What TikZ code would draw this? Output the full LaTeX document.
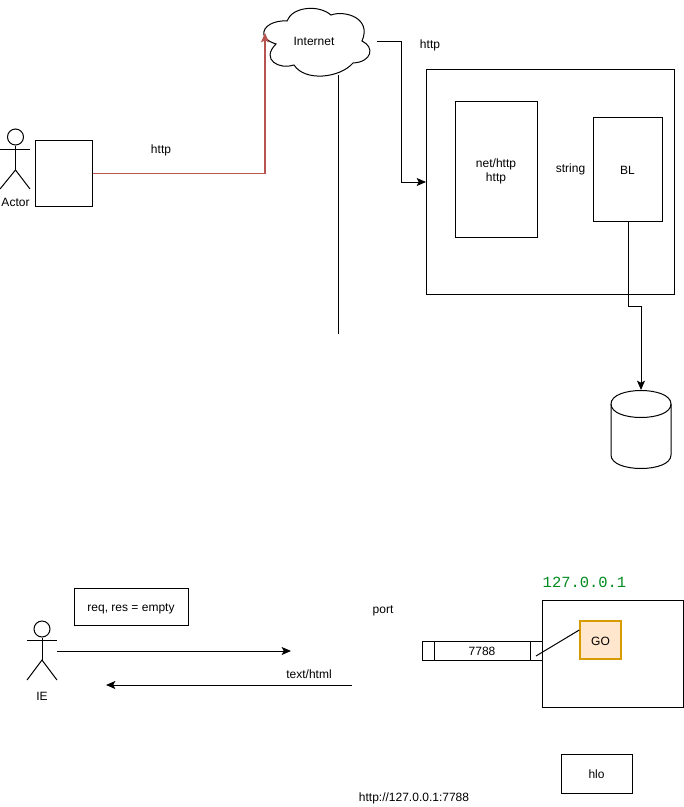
\documentclass[tikz,border=0pt]{standalone}
\usepackage{fontspec}
\setmainfont{Liberation Sans}
\newfontfamily\addrfont{Liberation Mono}
\usetikzlibrary{arrows.meta}
\definecolor{linkred}{HTML}{B85450}
\definecolor{gofill}{HTML}{FFE6CC}
\definecolor{goline}{HTML}{D79B00}
\definecolor{addrgreen}{HTML}{008A1E}
\tikzset{
	box/.style 2 args={draw, rectangle, inner sep=0pt, minimum width=#1*0.75pt, minimum height=#2*0.75pt, font=\fontsize{9}{10.5}\selectfont, align=center, text height=9.5pt, text depth=2pt},
	label/.style={inner sep=0pt, yshift=-0.75pt, font=\fontsize{9}{10.5}\selectfont, align=center},
	arrow/.style={-{Stealth[length=7pt, width=6pt, inset=1.5pt]}},
}
\begin{document}
\begin{tikzpicture}[x=0.75pt, y=-0.75pt, line width=0.75pt]
			\useasboundingbox (0, 0) rectangle (684, 807);

			\coordinate (actorhip) at (15.5, 170);
\coordinate (iehip) at (42, 660);
\coordinate (cloudout) at (377, 41);
\coordinate (cloudleft) at (265, 33);
\coordinate (cloudlow) at (338, 75);
\coordinate (lineend) at (338, 334);
\coordinate (serverin) at (426, 182);
\coordinate (dbtop) at (641, 390);
\coordinate (reqstart) at (57, 651);
\coordinate (reqend) at (291, 651);
\coordinate (resstart) at (352, 685);
\coordinate (resend) at (106, 685);
\coordinate (portpin) at (536, 656);

			% top half
			\node[draw, circle, inner sep=0pt, minimum size=12pt] (actorhead) at (15.5, 137) {};
			\draw (actorhead) -- (actorhip);
\draw (0, 149.5) -- (30, 149.5);
\draw (0, 189) -- (actorhip) -- (30, 189);
			\node[label] (actorname) at (15.5, 201) {Actor};

			\node[box={57}{66}] (client) at (63.5, 173) {};
			\node[label] (httpleft) at (161, 149.5) {http};

			\draw (264, 35) .. controls (262, 26) and (275, 20) .. (287, 21)
.. controls (292, 7) and (318, 4) .. (331, 15)
.. controls (345, 10) and (372, 18) .. (362, 41)
.. controls (375, 47) and (372, 62) .. (353, 63)
.. controls (340, 78) and (305, 82) .. (294, 65)
.. controls (280, 70) and (260, 60) .. (276, 44)
.. controls (270, 42) and (266, 40) .. (264, 35);
			\node[label] (cloud) at (314, 40) {Internet};

			\draw[linkred, arrow, line width=1.1pt] (client.east |- 0, 173.5) -| (cloudleft);
			\draw[arrow] (cloudout) -- (401, 41) |- (serverin);
			\draw (cloudlow) -- (lineend);
			\node[label] (httpright) at (430, 44) {http};

			\node[box={248}{225}] (server) at (550, 181.5) {};
			\node[box={82}{136}, text height=20pt] (nethttp) at (496, 169) {net/http\\http};
			\node[label] (strtext) at (570.5, 168) {string};
			\node[box={69}{104}] (bl) at (627.5, 169) {BL};

			\draw (611, 404) .. controls (611, 386) and (671, 386) .. (671, 404)
-- (671, 455) .. controls (671, 473) and (611, 473) .. (611, 455) -- cycle;
\draw (611, 404) .. controls (611, 422) and (671, 422) .. (671, 404);
			\draw[arrow] (628, 221) -- (628, 306) -- (641, 306) -- (dbtop);

			% bottom half
			\node[draw, circle, inner sep=0pt, minimum size=12pt] (iehead) at (42, 629) {};
			\draw (iehead) -- (iehip);
\draw (27, 640) -- (57, 640);
\draw (27, 680) -- (iehip) -- (57, 680);
			\node[label] (iename) at (42, 695) {IE};

			\node[box={114}{37}] (req) at (131, 606.5) {req, res = empty};
			\draw[arrow] (reqstart) -- (reqend);
			\draw[arrow] (resstart) -- (resend);
			\node[label] (texthtml) at (309, 673) {text/html};
			\node[label] (porttext) at (383, 610) {port};

			\node[inner sep=0pt, font=\addrfont\fontsize{11.6}{13}\selectfont, text=addrgreen] (addr) at (584.5, 582) {127.0.0.1};
			\node[box={141}{107}] (host) at (612.5, 653.5) {};
			\node[box={120}{19}] (port) at (482, 650.5) {7788};
			\draw (434, 641) -- (434, 660);
\draw (530, 641) -- (530, 660);
			\node[box={41}{38}, fill=gofill, draw=goline, line width=1.1pt] (go) at (600.5, 640) {GO};
			\draw (portpin) -- (go.west |- 0, 630);

			\node[box={71}{39}] (hlo) at (596.5, 773.5) {hlo};
			\node[label] (url) at (414, 797) {http://127.0.0.1:7788};

		\end{tikzpicture}
\end{document}
